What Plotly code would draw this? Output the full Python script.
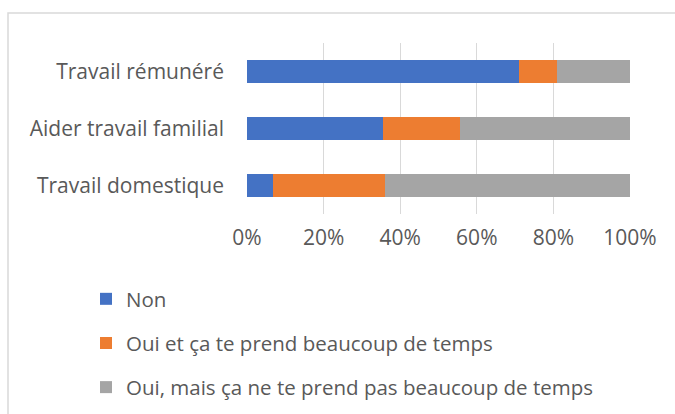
import plotly.graph_objects as go

categories = ["Travail domestique", "Aider travail familial", "Travail rémunéré"]
series_names = ["Non", "Oui et ça te prend beaucoup de temps", "Oui, mais ça ne te prend pas beaucoup de temps"]
non_vals = [6.7, 35.6, 71.1]
oui_beaucoup_vals = [29.2, 19.9, 9.8]
oui_pas_vals = [64.1, 44.5, 19.1]
tick_vals = [0, 20, 40, 60, 80, 100]
tick_text = ["0%", "20%", "40%", "60%", "80%", "100%"]

colors = ["#4472C4", "#ED7D31", "#A5A5A5"]
font_family = "'Open Sans', sans-serif"
fs = 21

fig = go.Figure()
for i, (name, vals) in enumerate(zip(series_names, [non_vals, oui_beaucoup_vals, oui_pas_vals])):
    fig.add_trace(go.Bar(
        y=categories, x=vals, name=name, orientation="h",
        marker=dict(color=colors[i], line=dict(width=0)),
        legendgroup=f"g{i}",
    ))

W, H = 675, 414
ml, mr, mt, mb = 247, 45, 43, 200
pw, ph = W - ml - mr, H - mt - mb

fig.update_layout(
    width=W, height=H,
    barmode="stack", bargap=0.6,
    margin=dict(l=ml, r=mr, t=mt, b=mb, autoexpand=False),
    paper_bgcolor="white", plot_bgcolor="white",
    font=dict(family=font_family, size=fs, color="#595959"),
    xaxis=dict(range=[0, 100], tickvals=tick_vals, ticktext=tick_text,
               showgrid=True, gridcolor="#D9D9D9", gridwidth=1.3,
               zeroline=False, showline=False, ticks="",
               ticklabelstandoff=9,
               tickfont=dict(size=fs, color="#595959"), fixedrange=True,
               automargin=False),
    yaxis=dict(showgrid=False, zeroline=False, showline=False, ticks="",
               ticklabelstandoff=22,
               tickfont=dict(size=fs, color="#595959"), fixedrange=True,
               automargin=False),
    legend=dict(x=(86 - ml) / pw, y=(214 - 279) / ph, xanchor="left", yanchor="top",
                orientation="v", traceorder="grouped", tracegroupgap=14.5,
                font=dict(size=fs - 0.5, color="#595959"), bgcolor="rgba(0,0,0,0)"),
    showlegend=True,
)

# outer chart border (light gray)
fig.add_shape(type="rect", xref="paper", yref="paper",
              x0=(8 - ml) / pw, x1=(700 - ml) / pw,
              y0=(mt + ph - 430) / ph, y1=(mt + ph - 13) / ph,
              line=dict(color="#D9D9D9", width=1.5), fillcolor="rgba(0,0,0,0)", layer="below")

fig.write_html("out.html", config={"displayModeBar": False},
               post_script="document.body.style.margin='0';document.body.style.overflow='hidden';")
